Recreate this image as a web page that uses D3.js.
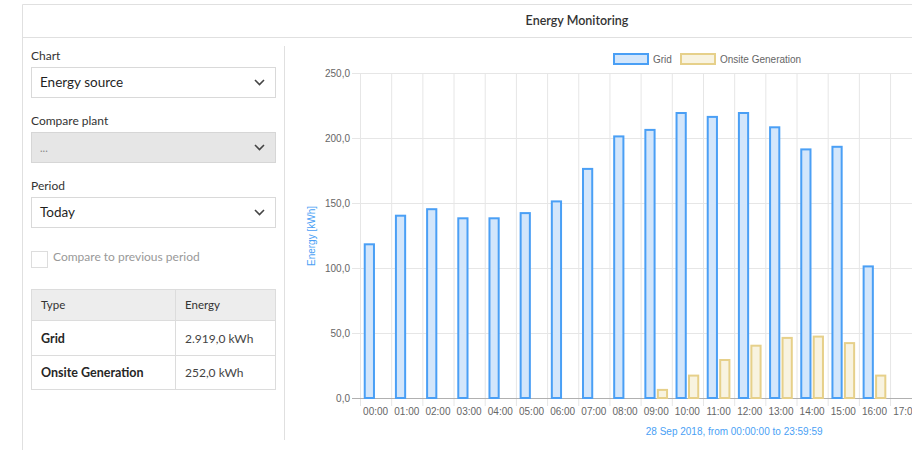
<!DOCTYPE html>
<html>
<head>
<meta charset="utf-8">
<script src="https://cdn.jsdelivr.net/npm/d3@7"></script>
<style>
  html, body { margin: 0; padding: 0; background: #fff; overflow: hidden; }
  svg { display: block; }
  .ui { font-family: Lato, "Open Sans", sans-serif; }
  .ch { font-family: "Liberation Sans", Arial, sans-serif; }
</style>
</head>
<body>
<svg id="view" width="912" height="450"></svg>
<script>
// Hourly energy readings for 28 Sep 2018 (kWh)
const hours = d3.range(24).map(h => String(h).padStart(2, "0") + ":00");
const gridValues = [119, 141, 146, 139, 139, 143, 152, 177, 202, 207, 220, 217, 220, 209, 192, 194, 102];
const onsiteValues = [0, 0, 0, 0, 0, 0, 0, 0, 0, 7, 18, 30, 41, 47, 48, 43, 18];
const seriesNames = ["Grid", "Onsite Generation"];
const yTicks = [0, 50, 100, 150, 200, 250];

const seriesStyle = {
  "Grid": { fill: "#d3e6fb", stroke: "#4a9ff5" },
  "Onsite Generation": { fill: "#f8f3e0", stroke: "#e6d08a" }
};

const svg = d3.select("#view");

// number format with comma decimal separator and dot grouping
const deFmt = d3.formatLocale({ decimal: ",", thousands: ".", grouping: [3], currency: ["", ""] });
const fmt1 = deFmt.format(",.1f");

// ---------- panel frame ----------
const frame = svg.append("g").attr("stroke", "#e0e0e0").attr("fill", "none");
frame.append("line").attr("x1", 22.5).attr("x2", 912).attr("y1", 4.5).attr("y2", 4.5);
frame.append("line").attr("x1", 22.5).attr("x2", 22.5).attr("y1", 4.5).attr("y2", 450);
frame.append("line").attr("x1", 22.5).attr("x2", 912).attr("y1", 37.5).attr("y2", 37.5);
frame.append("line").attr("x1", 284.5).attr("x2", 284.5).attr("y1", 46).attr("y2", 440);

svg.append("text").attr("class", "ui")
  .attr("x", 577).attr("y", 25).attr("text-anchor", "middle")
  .attr("font-size", 12.5).attr("font-weight", 600).attr("fill", "#333")
  .text("Energy Monitoring");

// ---------- left controls ----------
const left = svg.append("g").attr("class", "ui");

function dropdown(labelText, labelY, boxY, value, disabled) {
  left.append("text").attr("x", 31).attr("y", labelY)
    .attr("font-size", 12).attr("fill", "#333").text(labelText);
  left.append("rect").attr("x", 31.5).attr("y", boxY + 0.5).attr("width", 244).attr("height", 30)
    .attr("fill", disabled ? "#e6e6e6" : "#fff").attr("stroke", disabled ? "#d6d6d6" : "#d9d9d9");
  left.append("text").attr("x", 40).attr("y", boxY + 20)
    .attr("font-size", disabled ? 11 : 13.5).attr("fill", disabled ? "#888" : "#1f1f1f").text(value);
  left.append("path")
    .attr("d", `M${255},${boxY + 13} l4.5,4.5 l4.5,-4.5`)
    .attr("fill", "none").attr("stroke", "#444").attr("stroke-width", 1.6);
}
dropdown("Chart", 60, 67, "Energy source", false);
dropdown("Compare plant", 125, 132, "...", true);
dropdown("Period", 190, 197, "Today", false);

left.append("rect").attr("x", 31.5).attr("y", 251.5).attr("width", 16).attr("height", 16)
  .attr("fill", "#fff").attr("stroke", "#ddd");
left.append("text").attr("x", 53).attr("y", 261).attr("font-size", 12).attr("fill", "#999")
  .text("Compare to previous period");

// summary table built from the series totals
const totals = [d3.sum(gridValues), d3.sum(onsiteValues)];
const rowsY = [289.5, 320.5, 355.5, 389.5];
const tbl = left.append("g");
tbl.append("rect").attr("x", 31.5).attr("y", rowsY[0]).attr("width", 244).attr("height", rowsY[1] - rowsY[0])
  .attr("fill", "#ededed");
tbl.append("rect").attr("x", 31.5).attr("y", rowsY[0]).attr("width", 244).attr("height", rowsY[3] - rowsY[0])
  .attr("fill", "none").attr("stroke", "#dcdcdc");
[rowsY[1], rowsY[2]].forEach(y => tbl.append("line").attr("x1", 31.5).attr("x2", 275.5)
  .attr("y1", y).attr("y2", y).attr("stroke", "#dcdcdc"));
tbl.append("line").attr("x1", 175.5).attr("x2", 175.5).attr("y1", rowsY[0]).attr("y2", rowsY[3])
  .attr("stroke", "#dcdcdc");
tbl.append("text").attr("x", 41).attr("y", 309).attr("font-size", 11.5).attr("fill", "#333").text("Type");
tbl.append("text").attr("x", 185).attr("y", 309).attr("font-size", 11.5).attr("fill", "#333").text("Energy");
seriesNames.forEach((name, i) => {
  const y = (rowsY[i + 1] + rowsY[i + 2]) / 2 + 4.5;
  tbl.append("text").attr("x", 41).attr("y", y).attr("font-size", 12.5).attr("font-weight", 700)
    .attr("fill", "#262626").text(name);
  tbl.append("text").attr("x", 185).attr("y", y).attr("font-size", 12).attr("fill", "#444")
    .text(fmt1(totals[i]) + " kWh");
});

// ---------- chart ----------
const plot = { left: 360, top: 73, bottom: 398, band: 31.18 };
const x = d3.scaleBand().domain(hours)
  .range([plot.left, plot.left + plot.band * hours.length]).paddingInner(0).paddingOuter(0);
const y = d3.scaleLinear().domain([0, 250]).range([plot.bottom, plot.top]);
const inner = d3.scaleBand().domain(seriesNames)
  .range([0, x.bandwidth() * 0.8]).paddingInner(0).paddingOuter(0);

const chart = svg.append("g").attr("class", "ch");

// horizontal grid + y labels
const yAxis = d3.axisLeft(y).tickValues(yTicks).tickFormat(fmt1)
  .tickSize(-(x.range()[1] - plot.left)).tickPadding(10);
const gy = chart.append("g").attr("transform", `translate(${plot.left},0)`).call(yAxis);
gy.select(".domain").remove();
gy.selectAll(".tick line").attr("stroke", "#e6e6e6").attr("x1", -8);
gy.selectAll(".tick text").attr("font-size", 10).attr("fill", "#666").attr("font-family", "Liberation Sans, Arial, sans-serif").attr("x", -10);

// vertical grid at band edges
const edges = d3.range(hours.length + 1).map(i => plot.left + i * x.bandwidth());
chart.append("g").selectAll("line").data(edges).join("line")
  .attr("x1", d => d + 0.5).attr("x2", d => d + 0.5)
  .attr("y1", plot.top).attr("y2", plot.bottom + 8)
  .attr("stroke", "#e6e6e6");

// x axis baseline + labels
chart.append("line").attr("x1", plot.left - 8).attr("x2", x.range()[1])
  .attr("y1", plot.bottom + 0.5).attr("y2", plot.bottom + 0.5).attr("stroke", "#b0b0b0");
const xAxis = d3.axisBottom(x).tickSize(0).tickPadding(10);
const gx = chart.append("g").attr("transform", `translate(0,${plot.bottom})`).call(xAxis);
gx.select(".domain").remove();
gx.selectAll(".tick text").attr("font-size", 10).attr("fill", "#666").attr("font-family", "Liberation Sans, Arial, sans-serif");

// bars
const rows = gridValues.map((g, i) => ({ hour: hours[i], "Grid": g, "Onsite Generation": onsiteValues[i] }));
const groupOffset = x.bandwidth() * 0.1;
const barW = inner.bandwidth() * 0.9;
seriesNames.forEach(name => {
  const st = seriesStyle[name];
  chart.append("g").selectAll("rect")
    .data(rows.filter(r => r[name] > 0))
    .join("rect")
    .attr("x", r => x(r.hour) + groupOffset + inner(name) + (inner.bandwidth() - barW) / 2 + 1)
    .attr("y", r => y(r[name]) + 1)
    .attr("width", barW - 2)
    .attr("height", r => y(0) - y(r[name]) - 1)
    .attr("fill", st.fill).attr("stroke", st.stroke).attr("stroke-width", 2);
});

// legend
const legendX = [613, 680];
seriesNames.forEach((name, i) => {
  const st = seriesStyle[name];
  chart.append("rect").attr("x", legendX[i] + 1).attr("y", 54).attr("width", 34).attr("height", 10)
    .attr("fill", st.fill).attr("stroke", st.stroke).attr("stroke-width", 2);
  chart.append("text").attr("x", legendX[i] + 40).attr("y", 63).attr("font-size", 10).attr("fill", "#666")
    .text(name);
});

// axis titles
chart.append("text").attr("transform", `translate(315,236) rotate(-90)`).attr("text-anchor", "middle")
  .attr("font-size", 10).attr("fill", "#4a9ff5").text("Energy [kWh]");
chart.append("text").attr("x", (x.range()[0] + x.range()[1]) / 2).attr("y", 435).attr("text-anchor", "middle")
  .attr("font-size", 10).attr("fill", "#4a9ff5").text("28 Sep 2018, from 00:00:00 to 23:59:59");
</script>
</body>
</html>
